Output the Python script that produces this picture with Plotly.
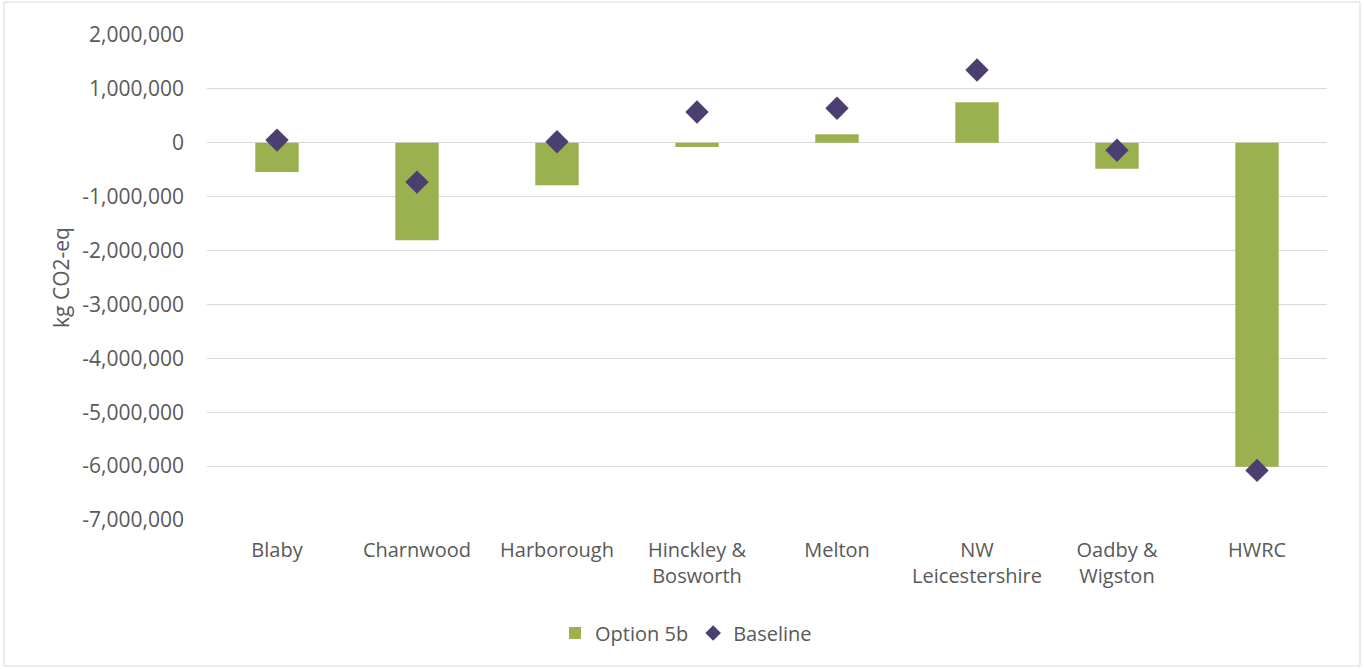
import plotly.graph_objects as go

categories = ["Blaby", "Charnwood", "Harborough", "Hinckley &<br>Bosworth", "Melton",
              "NW<br>Leicestershire", "Oadby &<br>Wigston", "HWRC"]
option_5b = [-540000, -1810000, -790000, -80000, 160000, 750000, -480000, -6010000]
baseline = [50000, -730000, 20000, 570000, 640000, 1350000, -140000, -6080000]
tick_vals = [2000000, 1000000, 0, -1000000, -2000000, -3000000, -4000000, -5000000, -6000000, -7000000]
tick_text = ["2,000,000", "1,000,000", "0", "-1,000,000", "-2,000,000", "-3,000,000",
             "-4,000,000", "-5,000,000", "-6,000,000", "-7,000,000"]

W, H = 1364, 669
L, R, T, B = 207, 37, 35, 149
pw, ph = W - L - R, H - T - B

fig = go.Figure()
fig.add_trace(go.Bar(x=categories, y=option_5b, name="Option 5b",
                     marker=dict(color="#9bb150", line=dict(width=0)), width=0.31))
fig.add_trace(go.Scatter(x=categories, y=baseline, name="Baseline", mode="markers",
                         marker=dict(symbol="diamond", size=18, color="#4b3f72")))

font_color = "#595959"
fig.update_layout(
    width=W, height=H,
    margin=dict(l=L, r=R, t=T, b=B),
    paper_bgcolor="white", plot_bgcolor="white",
    font=dict(family="Open Sans, Liberation Sans, sans-serif", size=20, color=font_color),
    showlegend=True,
    legend=dict(orientation="h", x=(686 - L) / pw, xanchor="center", y=-(633 - 520) / ph,
                yanchor="middle", font=dict(size=20, color=font_color), itemsizing="constant"),
    bargap=0.69,
    xaxis=dict(showgrid=False, showline=False, ticks="", tickfont=dict(size=20, color=font_color),
               zeroline=False, ticklabelstandoff=16),
    yaxis=dict(range=[-7000000, 2000000], tickvals=tick_vals, ticktext=tick_text,
               showgrid=True, gridcolor="#d9d9d9", gridwidth=1, zeroline=True,
               zerolinecolor="#d9d9d9", zerolinewidth=1, showline=False, ticks="",
               ticklabelstandoff=22,
               title=dict(text="kg CO2-eq", font=dict(size=21, color=font_color), standoff=6),
               tickfont=dict(size=21, color=font_color)),
    shapes=[dict(type="rect", xref="paper", yref="paper",
                 x0=(4 - L) / pw, x1=(1360 - L) / pw,
                 y0=(H - 666 - B) / ph, y1=(H - 2 - B) / ph,
                 line=dict(color="#d9d9d9", width=1), fillcolor="rgba(0,0,0,0)", layer="below")],
)

fig.write_html("out.html")
